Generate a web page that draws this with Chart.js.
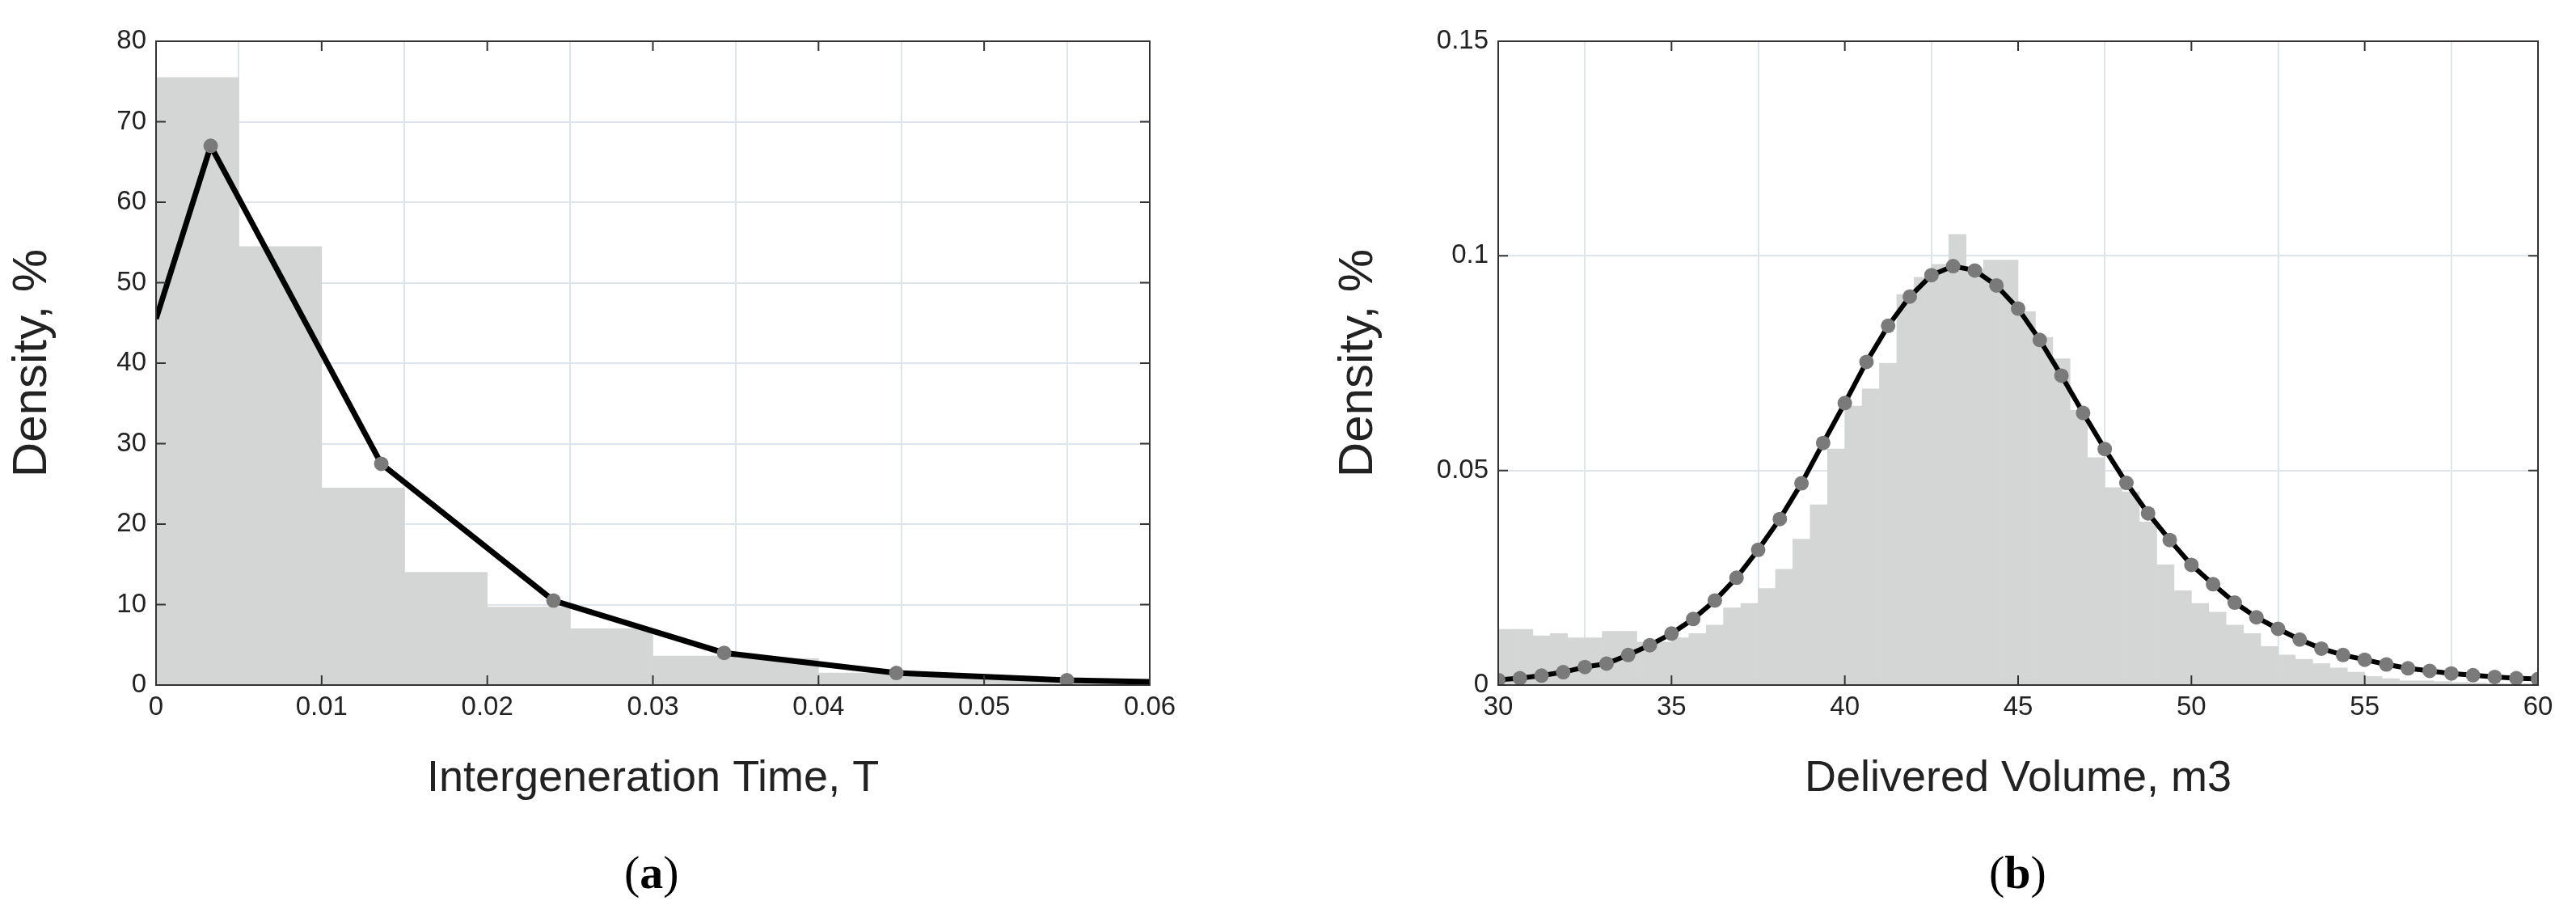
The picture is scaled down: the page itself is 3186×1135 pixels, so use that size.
<!DOCTYPE html>
<html><head><meta charset="utf-8">
<script src="https://cdn.jsdelivr.net/npm/chart.js@4/dist/chart.umd.min.js"></script>
<style>
body{margin:0;background:#fff;width:3186px;height:1135px;position:relative;overflow:hidden;font-family:"Liberation Serif",serif}
.c{position:absolute;top:0}
.lab{position:absolute;top:1045px;font-size:58px;font-family:"Liberation Serif",serif}
</style></head><body>
<div class="c" style="left:0;width:1480px;height:1000px"><canvas id="a"></canvas></div>
<div class="c" style="left:1640px;width:1546px;height:1000px"><canvas id="b"></canvas></div>
<div class="lab" style="left:772px">(<b>a</b>)</div>
<div class="lab" style="left:2460px">(<b>b</b>)</div>
<script>
// Panel (a)
const binsA = [0.0025,0.0075,0.0125,0.0175,0.0225,0.0275,0.0325,0.0375,0.0425,0.0475,0.0525,0.0575];
const histA = [75.5,54.5,24.5,14,9.7,7,3.6,3.3,1.5,1.2,0.8,0.6];
const fitAx = [0,0.0033,0.0136,0.024,0.0343,0.0447,0.055,0.06];
const fitAy = [45.5,67,27.5,10.5,4,1.5,0.6,0.4];
const ticksAx = ['0','0.01','0.02','0.03','0.04','0.05','0.06'];
const ticksAy = ['0','10','20','30','40','50','60','70','80'];
// Panel (b)
const binsB = [30.25,30.75,31.25,31.75,32.25,32.75,33.25,33.75,34.25,34.75,35.25,35.75,36.25,36.75,37.25,37.75,38.25,38.75,39.25,39.75,40.25,40.75,41.25,41.75,42.25,42.75,43.25,43.75,44.25,44.75,45.25,45.75,46.25,46.75,47.25,47.75,48.25,48.75,49.25,49.75,50.25,50.75,51.25,51.75,52.25,52.75,53.25,53.75,54.25,54.75,55.25,55.75,56.25,56.75,57.25,57.75,58.25,58.75,59.25,59.75];
const histB = [0.013,0.013,0.0115,0.012,0.011,0.011,0.0125,0.0125,0.010,0.010,0.011,0.012,0.014,0.018,0.019,0.0225,0.027,0.034,0.042,0.055,0.065,0.069,0.075,0.091,0.095,0.098,0.105,0.097,0.099,0.099,0.087,0.081,0.076,0.064,0.053,0.046,0.045,0.038,0.028,0.022,0.019,0.017,0.014,0.012,0.009,0.007,0.006,0.005,0.004,0.003,0.002,0.0015,0.001,0.001,0.0008,0.0006,0.0005,0.0004,0.0003,0.0003];
const fitBx = [30,30.625,31.25,31.875,32.5,33.125,33.75,34.375,35,35.625,36.25,36.875,37.5,38.125,38.75,39.375,40,40.625,41.25,41.875,42.5,43.125,43.75,44.375,45,45.625,46.25,46.875,47.5,48.125,48.75,49.375,50,50.625,51.25,51.875,52.5,53.125,53.75,54.375,55,55.625,56.25,56.875,57.5,58.125,58.75,59.375,60];
const fitBy = [0.0012,0.0016,0.0022,0.003,0.0042,0.005,0.007,0.0093,0.012,0.0154,0.0197,0.025,0.0315,0.0387,0.047,0.0564,0.0657,0.0753,0.0837,0.0905,0.0955,0.0976,0.0966,0.0931,0.0877,0.0804,0.0721,0.0634,0.055,0.0471,0.04,0.0338,0.028,0.0235,0.0192,0.0158,0.0131,0.0106,0.0085,0.007,0.0059,0.0048,0.0039,0.0033,0.0027,0.0023,0.0019,0.0016,0.0014];
const ticksBx = ['30','35','40','45','50','55','60'];
const ticksBy = ['0','0.05','0.1','0.15'];

const boxPlugin = {id:'box', afterDatasetsDraw(c){const a=c.chartArea,x=c.ctx;x.save();x.strokeStyle='#333';x.lineWidth=2;
  x.strokeRect(a.left,a.top,a.right-a.left,a.bottom-a.top);
  const sx=c.scales.x, sy=c.scales.y;
  x.beginPath();
  sx.ticks.forEach(t=>{const p=sx.getPixelForValue(t.value);x.moveTo(p,a.top);x.lineTo(p,a.top+12);x.moveTo(p,a.bottom);x.lineTo(p,a.bottom-12);});
  sy.ticks.forEach(t=>{const p=sy.getPixelForValue(t.value);x.moveTo(a.left,p);x.lineTo(a.left+12,p);x.moveTo(a.right,p);x.lineTo(a.right-12,p);});
  x.stroke();x.restore();}};

function make(id, bx, bh, fx, fy, xmin, xmax, xstep, ymax, ystep, tx, ty, xTitle, yw, padR, markerPts, lw){
  const pr = fx.map((_,i)=>markerPts(i)?9:0);
  new Chart(document.getElementById(id),{
    data:{datasets:[
      {type:'line',data:fx.map((v,i)=>({x:v,y:fy[i]})),borderColor:'#000',borderWidth:lw,pointRadius:pr,pointBackgroundColor:'#7a7a7a',pointBorderWidth:0,tension:0,order:0},
      {type:'bar',data:bx.map((v,i)=>({x:v,y:bh[i]})),backgroundColor:'#d4d6d6',barPercentage:1,categoryPercentage:1,order:1}
    ]},
    options:{responsive:true,maintainAspectRatio:false,animation:false,
      layout:{padding:{top:51,right:padR,left:0,bottom:0}},
      plugins:{legend:{display:false},tooltip:{enabled:false}},
      scales:{
        x:{type:'linear',min:xmin,max:xmax,offset:false,
          ticks:{stepSize:xstep,autoSkip:false,maxRotation:0,color:'#222',font:{family:'Liberation Sans',size:33},padding:8,
            callback:(v,i)=>tx[i]},
          grid:{color:'#dde4ec',lineWidth:2,tickLength:0},border:{display:false},
          title:{display:true,text:xTitle,color:'#222',font:{family:'Liberation Sans',size:54},padding:{top:0}},
          afterFit:s=>{s.height=153;}},
        y:{min:0,max:ymax,
          ticks:{stepSize:ystep,autoSkip:false,color:'#222',font:{family:'Liberation Sans',size:33},padding:12,callback:(v,i)=>ty[i]},
          grid:{color:'#dde4ec',lineWidth:2,tickLength:0},border:{display:false},
          title:{display:true,text:'Density, %',color:'#222',font:{family:'Liberation Sans',size:60},padding:{bottom:0}},
          afterFit:s=>{s.width=yw;}}
      }},
    plugins:[boxPlugin]
  });
}
make('a',binsA,histA,fitAx,fitAy,0,0.06,0.01,80,10,ticksAx,ticksAy,'Intergeneration Time, T',193,58,i=>i>0&&i<fitAx.length-1,7);
make('b',binsB,histB,fitBx,fitBy,30,60,5,0.15,0.05,ticksBx,ticksBy,'Delivered Volume, m3',213,47,()=>true,6);
</script></body></html>
